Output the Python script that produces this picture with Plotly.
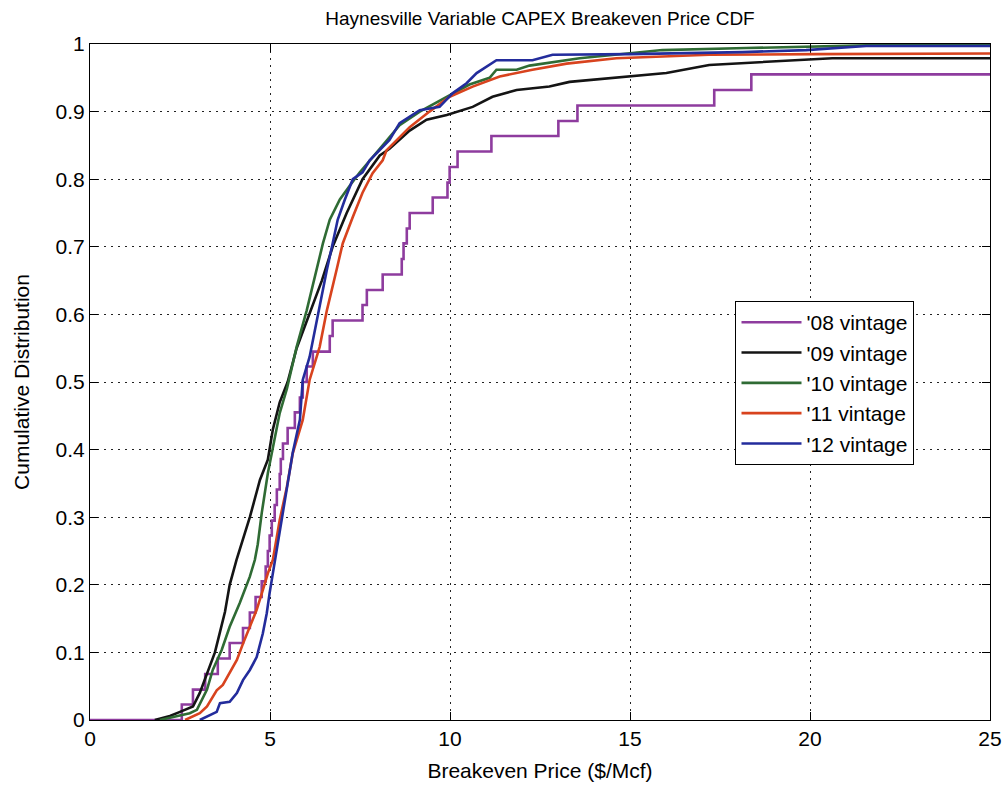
import plotly.graph_objects as go

# ---- data ----
series_names = ["'08 vintage", "'09 vintage", "'10 vintage", "'11 vintage", "'12 vintage"]
series_colors = ["#8E3C9E", "#141414", "#2F6B34", "#D8431E", "#232C9C"]

# '08 vintage: step CDF (jump positions and levels)
x08 = [0, 2.55, 2.86, 3.2, 3.55, 3.88, 4.25, 4.44, 4.6, 4.77, 4.88, 4.94, 4.99, 5.05, 5.13,
       5.19, 5.27, 5.30, 5.36, 5.49, 5.69, 5.83, 5.91, 6.02, 6.19, 6.66, 6.74, 7.57, 7.69,
       8.13, 8.66, 8.71, 8.80, 8.88, 9.52, 9.93, 9.99, 10.21, 11.15, 13.01, 13.54, 17.34,
       18.37, 25]
y08 = [0, 0.023, 0.045, 0.068, 0.091, 0.114, 0.136, 0.159, 0.182, 0.205, 0.227, 0.25, 0.273,
       0.295, 0.318, 0.341, 0.364, 0.386, 0.409, 0.432, 0.455, 0.477, 0.5, 0.523, 0.545,
       0.568, 0.591, 0.614, 0.636, 0.659, 0.682, 0.705, 0.727, 0.75, 0.773, 0.795, 0.818,
       0.841, 0.864, 0.886, 0.909, 0.932, 0.955, 0.955]

x09 = [1.80, 2.22, 2.50, 2.86, 3.05, 3.19, 3.33, 3.47, 3.61, 3.75, 3.88, 4.07, 4.44, 4.72,
       4.94, 5.08, 5.27, 5.49, 5.74, 6.10, 6.44, 6.74, 7.13, 7.57, 8.05, 8.32, 8.52, 8.88,
       9.35, 9.91, 10.63, 11.18, 11.85, 12.76, 13.32, 14.90, 16.01, 17.20, 18.67, 20.62, 25]
y09 = [0, 0.006, 0.012, 0.02, 0.04, 0.06, 0.08, 0.10, 0.13, 0.16, 0.20, 0.237, 0.30, 0.355,
       0.385, 0.43, 0.47, 0.50, 0.55, 0.60, 0.65, 0.70, 0.75, 0.80, 0.835, 0.845, 0.855, 0.872,
       0.888, 0.895, 0.907, 0.922, 0.932, 0.937, 0.944, 0.951, 0.957, 0.969, 0.973, 0.979, 0.979]

x10 = [1.94, 2.50, 2.77, 2.97, 3.25, 3.41, 3.66, 3.88, 4.16, 4.44, 4.58, 4.66, 4.77, 4.94,
       5.13, 5.27, 5.47, 5.74, 6.02, 6.30, 6.47, 6.66, 6.94, 7.21, 7.49, 8.13, 8.60, 9.16,
       9.85, 10.54, 11.10, 11.29, 11.85, 12.21, 13.60, 15.90, 18.23, 21.56, 25]
y10 = [0, 0.006, 0.01, 0.015, 0.045, 0.074, 0.104, 0.138, 0.173, 0.212, 0.237, 0.26, 0.306,
       0.365, 0.419, 0.454, 0.49, 0.552, 0.606, 0.666, 0.705, 0.74, 0.77, 0.79, 0.81, 0.85,
       0.88, 0.90, 0.92, 0.94, 0.95, 0.962, 0.962, 0.968, 0.979, 0.991, 0.994, 0.998, 0.998]

x11 = [2.64, 3.05, 3.25, 3.52, 3.69, 3.88, 4.08, 4.25, 4.44, 4.63, 4.80, 4.94, 5.08, 5.27,
       5.47, 5.63, 5.91, 6.10, 6.38, 6.58, 6.85, 7.02, 7.30, 7.57, 7.85, 8.13, 8.24, 8.88,
       9.43, 9.99, 10.63, 11.38, 12.29, 13.24, 14.62, 15.82, 17.20, 20.17, 25]
y11 = [0, 0.01, 0.02, 0.044, 0.052, 0.07, 0.089, 0.113, 0.138, 0.163, 0.192, 0.217, 0.237,
       0.296, 0.345, 0.394, 0.444, 0.503, 0.552, 0.606, 0.666, 0.705, 0.744, 0.78, 0.809,
       0.828, 0.843, 0.877, 0.90, 0.922, 0.937, 0.952, 0.962, 0.971, 0.979, 0.981, 0.984,
       0.985, 0.986]

x12 = [3.05, 3.52, 3.61, 3.88, 4.08, 4.25, 4.44, 4.63, 4.80, 4.91, 4.99, 5.08, 5.13, 5.27,
       5.47, 5.63, 5.83, 5.91, 6.10, 6.30, 6.58, 6.74, 6.88, 7.08, 7.30, 7.57, 7.77, 8.32,
       8.60, 9.16, 9.71, 10.07, 10.46, 10.74, 11.10, 11.29, 12.29, 12.85, 14.98, 18.12,
       19.89, 21.56, 25]
y12 = [0, 0.012, 0.025, 0.027, 0.04, 0.059, 0.074, 0.093, 0.128, 0.158, 0.188, 0.217, 0.237,
       0.281, 0.34, 0.395, 0.444, 0.503, 0.537, 0.592, 0.666, 0.705, 0.74, 0.77, 0.80, 0.81,
       0.828, 0.858, 0.883, 0.902, 0.907, 0.927, 0.942, 0.957, 0.969, 0.976, 0.976, 0.984,
       0.985, 0.988, 0.991, 0.997, 0.997]

xs = [x08, x09, x10, x11, x12]
ys = [y08, y09, y10, y11, y12]
shapes = ["hv", "linear", "linear", "linear", "linear"]

x_ticks = [0, 5, 10, 15, 20, 25]
y_ticks = [0, 0.1, 0.2, 0.3, 0.4, 0.5, 0.6, 0.7, 0.8, 0.9, 1]
y_tick_labels = ["0", "0.1", "0.2", "0.3", "0.4", "0.5", "0.6", "0.7", "0.8", "0.9", "1"]

FONT = "Liberation Sans Narrow, Liberation Sans, Arial, sans-serif"

fig = go.Figure()
for name, color, x, y, sh in zip(series_names, series_colors, xs, ys, shapes):
    fig.add_trace(go.Scatter(x=x, y=y, mode="lines", name=name,
                             line=dict(color=color, width=2.6, shape=sh)))

axis_common = dict(showline=True, linecolor="black", linewidth=1.2, mirror="ticks",
                   ticks="inside", ticklen=8, tickcolor="black", tickwidth=1.2,
                   showgrid=True, gridcolor="#222222", griddash="2px,5px", gridwidth=1.2,
                   zeroline=False, automargin=False,
                   tickfont=dict(family=FONT, size=21, color="black"))

fig.update_layout(
    width=1005, height=792,
    margin=dict(l=90, r=15, t=44, b=72),
    paper_bgcolor="white", plot_bgcolor="white",
    title=dict(text="Haynesville Variable CAPEX Breakeven Price CDF",
               font=dict(family=FONT, size=19, color="black"),
               x=0.5, xref="paper", xanchor="center",
               y=1 - 18 / 792, yref="container", yanchor="middle"),
    xaxis=dict(range=[0, 25], tickvals=x_ticks,
               title=dict(text="Breakeven Price ($/Mcf)", standoff=14,
                          font=dict(family=FONT, size=21, color="black")),
               **axis_common),
    yaxis=dict(range=[0, 1], tickvals=y_ticks, ticktext=y_tick_labels,
               title=dict(text="Cumulative Distribution", standoff=20,
                          font=dict(family=FONT, size=21, color="black")),
               **axis_common),
    legend=dict(x=0.717, y=0.62, xanchor="left", yanchor="top",
                bgcolor="white", bordercolor="black", borderwidth=1.2,
                font=dict(family=FONT, size=21, color="black"),
                tracegroupgap=0, itemwidth=60),
    showlegend=True,
)

fig.write_html("out.html")
